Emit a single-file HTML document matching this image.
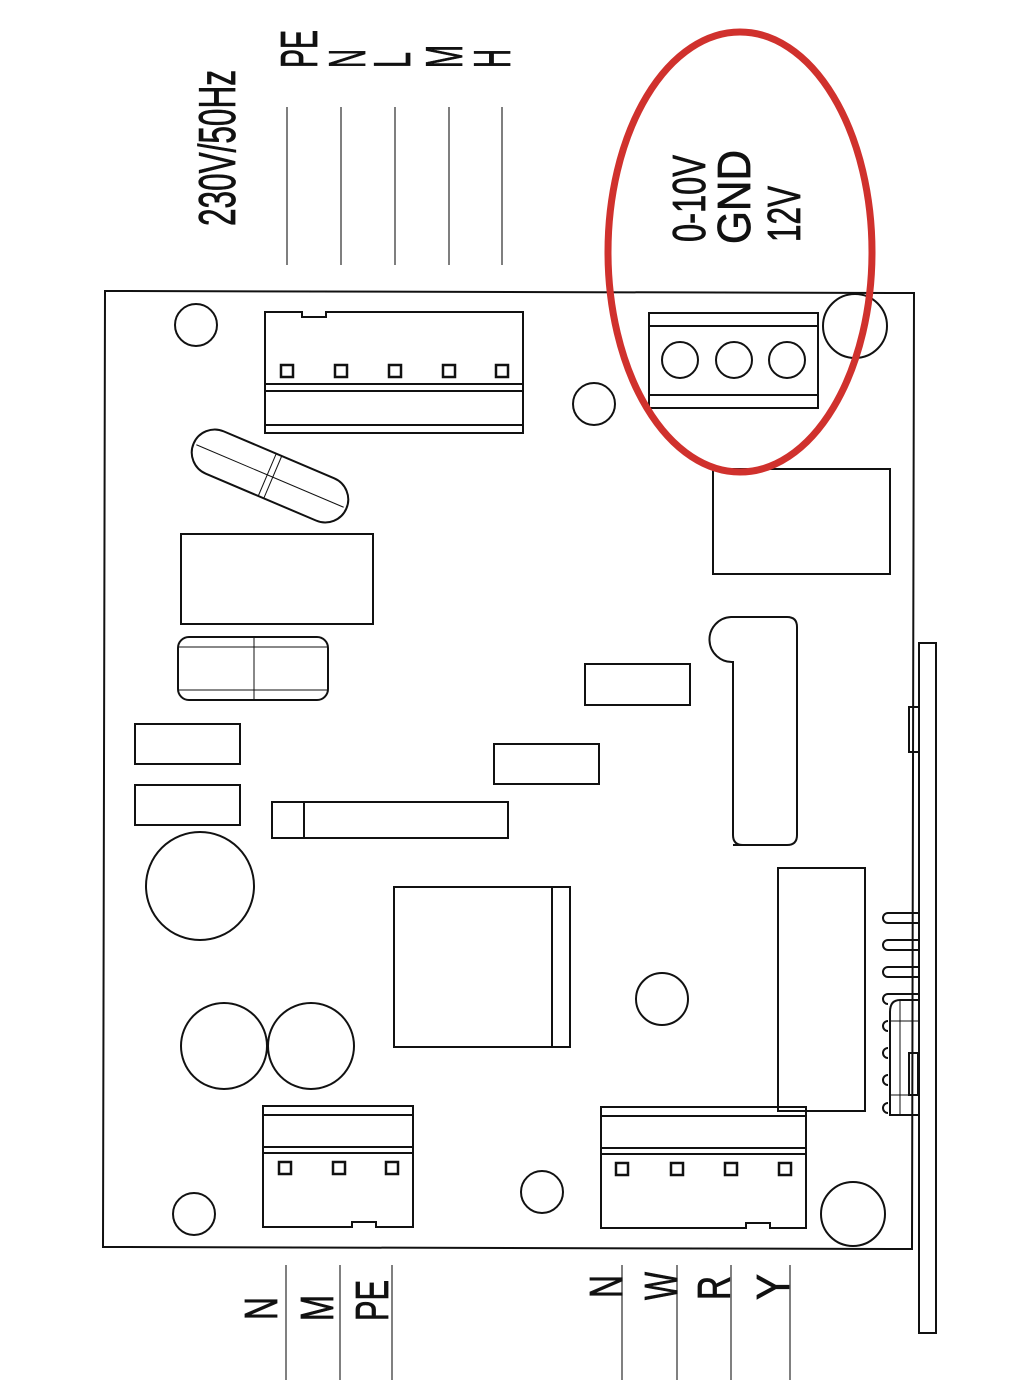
<!DOCTYPE html>
<html><head><style>body{margin:0;background:#fff}svg{display:block}</style></head><body>
<svg width="1024" height="1380" viewBox="0 0 1024 1380" xmlns="http://www.w3.org/2000/svg" font-family="Liberation Sans, sans-serif">
<g fill="none" stroke="#111" stroke-width="2">
<g stroke="#555" stroke-width="1.5">
<line x1="287" y1="107" x2="287" y2="265"/><line x1="341" y1="107" x2="341" y2="265"/><line x1="395" y1="107" x2="395" y2="265"/><line x1="449" y1="107" x2="449" y2="265"/><line x1="502" y1="107" x2="502" y2="265"/>
<line x1="286" y1="1265" x2="286" y2="1380"/><line x1="340" y1="1265" x2="340" y2="1380"/><line x1="392" y1="1265" x2="392" y2="1380"/>
<line x1="622" y1="1265" x2="622" y2="1380"/><line x1="677" y1="1265" x2="677" y2="1380"/><line x1="731" y1="1265" x2="731" y2="1380"/><line x1="790" y1="1265" x2="790" y2="1380"/>
</g>
<polygon points="105,291 914,293 912,1249 103,1247"/>
<rect x="919" y="643" width="17" height="690"/>
<rect x="909" y="707" width="10" height="45"/>
<path d="M265,312 H302 V317 H326 V312 H523 V433 H265 Z"/>
<line x1="265" y1="384" x2="523" y2="384"/><line x1="265" y1="391" x2="523" y2="391"/><line x1="265" y1="425" x2="523" y2="425"/>
<g stroke-width="2.5"><rect x="281" y="365" width="12" height="12"/><rect x="335" y="365" width="12" height="12"/><rect x="389" y="365" width="12" height="12"/><rect x="443" y="365" width="12" height="12"/><rect x="496" y="365" width="12" height="12"/></g>
<circle cx="196" cy="325" r="21"/><circle cx="594" cy="404" r="21"/>
<g transform="translate(270,476) rotate(23)"><rect x="-83" y="-23" width="166" height="46" rx="23"/><line x1="-80" y1="0" x2="80" y2="0" stroke-width="1"/><line x1="-3" y1="-23" x2="-3" y2="23" stroke-width="1"/><line x1="3" y1="-23" x2="3" y2="23" stroke-width="1"/></g>
<rect x="181" y="534" width="192" height="90"/>
<rect x="178" y="637" width="150" height="63" rx="11"/>
<g stroke-width="1"><line x1="178" y1="647" x2="328" y2="647"/><line x1="178" y1="690" x2="328" y2="690"/><line x1="254" y1="637" x2="254" y2="700"/></g>
<rect x="135" y="724" width="105" height="40"/><rect x="135" y="785" width="105" height="40"/>
<rect x="272" y="802" width="236" height="36"/><line x1="304" y1="802" x2="304" y2="838"/>
<circle cx="200" cy="886" r="54"/>
<circle cx="224" cy="1046" r="43"/><circle cx="311" cy="1046" r="43"/>
<rect x="394" y="887" width="176" height="160"/><line x1="552" y1="887" x2="552" y2="1047"/>
<circle cx="662" cy="999" r="26"/>
<rect x="585" y="664" width="105" height="41"/><rect x="494" y="744" width="105" height="40"/>
<path d="M733,845 H787 Q797,845 797,835 V627 Q797,617 787,617 H731 A22,22 0 0 0 733,662 V835 Q733,845 743,845"/>
<rect x="713" y="469" width="177" height="105"/>
<rect x="649" y="313" width="169" height="95"/>
<line x1="649" y1="326" x2="818" y2="326"/><line x1="649" y1="395" x2="818" y2="395"/>
<circle cx="680" cy="360" r="18"/><circle cx="734" cy="360" r="18"/><circle cx="787" cy="360" r="18"/>
<circle cx="855" cy="326" r="32"/>
<rect x="778" y="868" width="87" height="243"/>
<g stroke-width="2">
<path d="M918,913 H888 a5,5 0 0 0 0,10 H918"/><path d="M918,940 H888 a5,5 0 0 0 0,10 H918"/><path d="M918,967 H888 a5,5 0 0 0 0,10 H918"/><path d="M918,994 H888 a5,5 0 0 0 0,10"/>
<path d="M888,1021 a5,5 0 0 0 0,10"/><path d="M888,1048 a5,5 0 0 0 0,10"/><path d="M888,1075 a5,5 0 0 0 0,10"/><path d="M888,1103 a5,5 0 0 0 0,10"/>
<path d="M918,1000 H900 Q890,1000 890,1012 V1115 H918"/>
<line x1="900" y1="1000" x2="900" y2="1115" stroke-width="1"/><line x1="890" y1="1021" x2="918" y2="1021" stroke-width="1"/><line x1="890" y1="1095" x2="918" y2="1095" stroke-width="1"/>
<rect x="909" y="1053" width="9" height="42"/>
</g>
<path d="M263,1106 H413 V1227 H376 V1222 H352 V1227 H263 Z"/>
<line x1="263" y1="1115" x2="413" y2="1115"/><line x1="263" y1="1147" x2="413" y2="1147"/><line x1="263" y1="1153" x2="413" y2="1153"/>
<g stroke-width="2.5"><rect x="279" y="1162" width="12" height="12"/><rect x="333" y="1162" width="12" height="12"/><rect x="386" y="1162" width="12" height="12"/></g>
<path d="M601,1107 H806 V1228 H770 V1223 H746 V1228 H601 Z"/>
<line x1="601" y1="1116" x2="806" y2="1116"/><line x1="601" y1="1148" x2="806" y2="1148"/><line x1="601" y1="1154" x2="806" y2="1154"/>
<g stroke-width="2.5"><rect x="616" y="1163" width="12" height="12"/><rect x="671" y="1163" width="12" height="12"/><rect x="725" y="1163" width="12" height="12"/><rect x="779" y="1163" width="12" height="12"/></g>
<circle cx="194" cy="1214" r="21"/><circle cx="542" cy="1192" r="21"/><circle cx="853" cy="1214" r="32"/>
<ellipse cx="740" cy="252" rx="132" ry="220" stroke="#d0312d" stroke-width="7"/>
</g>
<g fill="#111" stroke="#111" stroke-width="0.8" font-size="46">
<text transform="translate(235,226) rotate(-90)" font-size="52" textLength="156" lengthAdjust="spacingAndGlyphs">230V/50Hz</text>
<g font-size="52">
<text transform="translate(317,68) rotate(-90)" textLength="38" lengthAdjust="spacingAndGlyphs">PE</text>
<text transform="translate(365,68) rotate(-90)" textLength="19" lengthAdjust="spacingAndGlyphs">N</text>
<text transform="translate(410,68) rotate(-90)" textLength="16" lengthAdjust="spacingAndGlyphs">L</text>
<text transform="translate(462,68) rotate(-90)" textLength="23" lengthAdjust="spacingAndGlyphs">M</text>
<text transform="translate(510,68) rotate(-90)" textLength="19" lengthAdjust="spacingAndGlyphs">H</text>
</g>
<text transform="translate(705,242) rotate(-90)" textLength="87" lengthAdjust="spacingAndGlyphs">0-10V</text>
<text transform="translate(750,244) rotate(-90)" textLength="94" lengthAdjust="spacingAndGlyphs">GND</text>
<text transform="translate(800,242) rotate(-90)" textLength="56" lengthAdjust="spacingAndGlyphs">12V</text>
<text transform="translate(277,1320) rotate(-90)" textLength="23" lengthAdjust="spacingAndGlyphs">N</text>
<text transform="translate(333,1321) rotate(-90)" textLength="26" lengthAdjust="spacingAndGlyphs">M</text>
<text transform="translate(388,1321) rotate(-90)" textLength="41" lengthAdjust="spacingAndGlyphs">PE</text>
<text transform="translate(622,1298) rotate(-90)" textLength="23" lengthAdjust="spacingAndGlyphs">N</text>
<text transform="translate(677,1300) rotate(-90)" textLength="28" lengthAdjust="spacingAndGlyphs">W</text>
<text transform="translate(730,1300) rotate(-90)" textLength="24" lengthAdjust="spacingAndGlyphs">R</text>
<text transform="translate(789,1300) rotate(-90)" textLength="26" lengthAdjust="spacingAndGlyphs">Y</text>
</g>
</svg>
</body></html>
